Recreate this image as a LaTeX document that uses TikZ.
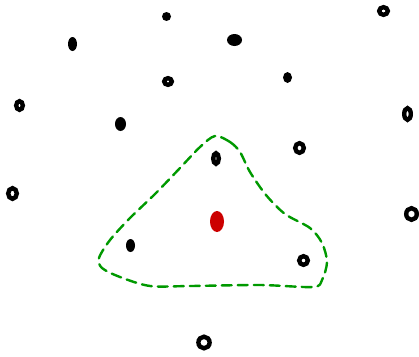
\documentclass[tikz,border=0pt]{standalone}
\begin{document}
\begin{tikzpicture}[x=1pt,y=-1pt,
  ring/.style={draw=black,line width=4.4pt},
  blob/.style={fill=black},
  hull/.style={draw=green!60!black,line width=2.4pt,dash pattern=on 10pt off 6pt,line cap=round,line join=round}]
\useasboundingbox (0,0) rectangle (419,356);
% filled dots
\fill[blob] (166.5,16.5) ellipse (4.5 and 4.5);
\fill[blob] (72.5,44) ellipse (4.5 and 7);
\fill[blob] (234.5,40) ellipse (7.5 and 6);
\fill[blob] (287.5,77.5) ellipse (4.5 and 5.5);
\fill[blob] (120.5,124) ellipse (5.5 and 7);
\fill[blob] (130.5,245.5) ellipse (4.5 and 6.5);
% ring dots
\draw[ring] (383.5,11) ellipse (4.3 and 3.8);
\draw[ring] (168,81.5) ellipse (3.8 and 3.3);
\draw[ring] (19.5,105.5) ellipse (3.3 and 4.3);
\draw[ring] (407.5,114) ellipse (3.3 and 5.8);
\draw[ring] (299.5,148) ellipse (4.3 and 4.8);
\draw[ring] (216,158.5) ellipse (2.8 and 5.3);
\draw[ring] (12.5,193.5) ellipse (4.3 and 5.3);
\draw[ring] (411.5,214) ellipse (5.3 and 5.8);
\draw[ring] (303.5,260.5) ellipse (4.3 and 4.3);
\draw[ring] (204,342.5) ellipse (5.6 and 5.8);
% red centre
\fill[red!80!black] (217,221.5) ellipse (7 and 10.5);
% green dashed hull
\draw[hull] plot[smooth cycle,tension=0.5] coordinates {
 (215,136) (230,142) (240,152) (250,172) (266,195) (285,214) (310,228)
 (322,243) (327,262) (322,280) (313,287) (260,285) (190,286) (150,286)
 (120,277) (102,268) (99,258) (110,240) (130,218) (155,194) (180,168) (200,147)};
\end{tikzpicture}
\end{document}
